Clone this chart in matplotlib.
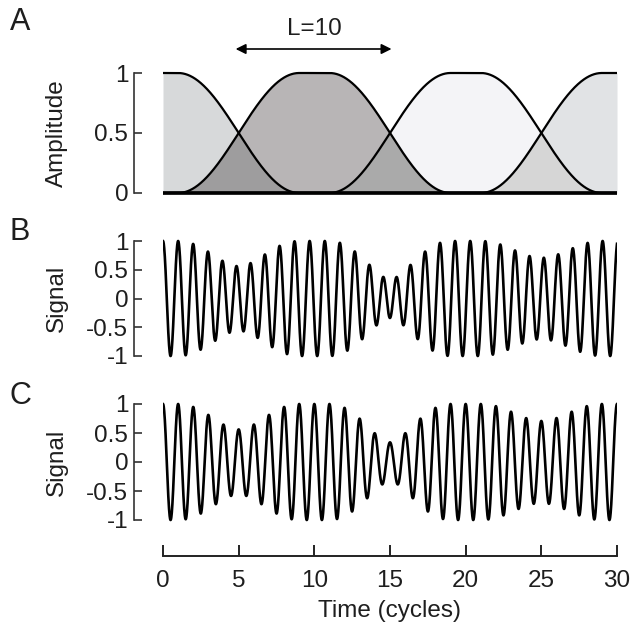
import numpy as np
import matplotlib
matplotlib.use("Agg")
import matplotlib.pyplot as plt

plt.rcParams['font.family'] = ['Liberation Sans', 'DejaVu Sans']

# ---- data ----
window_centers = [0, 10, 20, 30]          # cycles
window_length = 10                         # L (0.5-crossing spacing)
transition_width = 8.0                     # width of the cosine ramps
phases_cycles = [0.0, 0.31, -0.30, -0.05]  # phase of each windowed segment
window_colors = ['#d7d9da', '#b8b5b6', '#f4f4f7', '#e1e3e5']
overlap_colors = ['#9e9d9e', '#aaaaaa', '#d6d6d6']
x_ticks = [0, 5, 10, 15, 20, 25, 30]
amp_ticks = [0, 0.5, 1]
amp_ticklabels = ['0', '0.5', '1']
sig_ticks = [-1, -0.5, 0, 0.5, 1]
sig_ticklabels = ['-1', '-0.5', '0', '0.5', '1']

t = np.linspace(0, 30, 3001)

def window(c):
    d = np.abs(t - c)
    flat = window_length / 2 - transition_width / 2
    w = 0.5 * (1 + np.cos(np.pi * np.clip(d - flat, 0, transition_width) / transition_width))
    return w

W = [window(c) for c in window_centers]
complex_sum = sum(w * np.exp(2j * np.pi * p) for w, p in zip(W, phases_cycles))
signal_B = np.real(complex_sum * np.exp(2j * np.pi * t))
signal_C = np.abs(complex_sum) * np.cos(2 * np.pi * t)

FW, FH = 636, 630
fig = plt.figure(figsize=(FW / 100, FH / 100), dpi=100)

X0, X1 = 163, 617

def rect(ylo, yhi, py_lo, py_hi, lim):
    ppu = (py_lo - py_hi) / (yhi - ylo)
    bottom_px = py_lo + (ylo - lim[0]) * ppu
    top_px = py_hi - (lim[1] - yhi) * ppu
    return [X0 / FW, 1 - bottom_px / FH, (X1 - X0) / FW, (bottom_px - top_px) / FH]

FS = 17.5
TXT = '#1e1e1e'
spine_off = 21
label_x = (68 - X0) / (X1 - X0)

def style_left(ax, ticks, labels, lo, hi, ylabel):
    for s in ['top', 'right', 'bottom']:
        ax.spines[s].set_visible(False)
    ax.spines['left'].set_position(('outward', spine_off))
    ax.spines['left'].set_bounds(lo, hi)
    ax.spines['left'].set_linewidth(1.2)
    ax.spines['left'].set_color('#333333')
    ax.set_yticks(ticks)
    ax.set_yticklabels(labels)
    ax.tick_params(axis='y', direction='in', length=6, width=1.2, pad=4,
                   labelsize=FS, colors='#333333', labelcolor=TXT)
    ax.set_xticks([])
    ax.set_xlim(0, 30)
    ax.patch.set_visible(False)
    ax.set_ylabel(ylabel, fontsize=FS, color=TXT)
    ylo, yhi = ax.get_ylim()
    ax.yaxis.set_label_coords(label_x, (0.5 * (lo + hi) - ylo) / (yhi - ylo))

# ---- Panel A ----
limA = (-0.03, 1.03)
axA = fig.add_axes(rect(0, 1, 193, 73, limA))
axA.set_ylim(*limA)
for w, c in zip(W, window_colors):
    axA.fill_between(t, 0, w, color=c, lw=0)
for i, c in enumerate(overlap_colors):
    axA.fill_between(t, 0, np.minimum(W[i], W[i + 1]), color=c, lw=0)
for w in W:
    axA.plot(t, w, color='black', lw=1.6)
axA.plot([0, 30], [0, 0], color='black', lw=2.6, solid_capstyle='butt')
style_left(axA, amp_ticks, amp_ticklabels, 0, 1, 'Amplitude')
axA.annotate('', xy=(4.8, 1.2), xytext=(15.1, 1.2), xycoords='data',
             arrowprops=dict(arrowstyle='<|-|>', color='black', lw=1.2,
                             mutation_scale=15, shrinkA=0, shrinkB=0),
             annotation_clip=False)
axA.text(10, 1.37, 'L=10', ha='center', va='center', fontsize=FS, color=TXT)

# ---- Panel B ----
limS = (-1.05, 1.05)
axB = fig.add_axes(rect(-1, 1, 356, 241, limS))
axB.set_ylim(*limS)
axB.plot(t, signal_B, color='black', lw=1.9)
style_left(axB, sig_ticks, sig_ticklabels, -1, 1, 'Signal')

# ---- Panel C ----
axC = fig.add_axes(rect(-1, 1, 520, 404, limS))
axC.set_ylim(*limS)
axC.plot(t, signal_C, color='black', lw=1.9)
style_left(axC, sig_ticks, sig_ticklabels, -1, 1, 'Signal')

# ---- time axis ----
axT = fig.add_axes([X0 / FW, 1 - 556 / FH, (X1 - X0) / FW, 0.001])
for s in ['top', 'right', 'left']:
    axT.spines[s].set_visible(False)
axT.patch.set_visible(False)
axT.set_xlim(0, 30)
axT.spines['bottom'].set_bounds(0, 30)
axT.spines['bottom'].set_linewidth(1.4)
axT.spines['bottom'].set_color('#222222')
axT.set_yticks([])
axT.set_xticks(x_ticks)
axT.set_xticklabels([str(v) for v in x_ticks])
axT.tick_params(axis='x', direction='in', length=8, width=1.4, pad=10,
                labelsize=FS, colors='#222222', labelcolor=TXT)
axT.set_xlabel('Time (cycles)', fontsize=FS, color=TXT, labelpad=6)

# panel letters
for letter, py in [('A', 22), ('B', 232), ('C', 396)]:
    fig.text(20 / FW, 1 - py / FH, letter, fontsize=22, ha='center', va='center',
             color=TXT)

fig.savefig('out.png', dpi=100)
